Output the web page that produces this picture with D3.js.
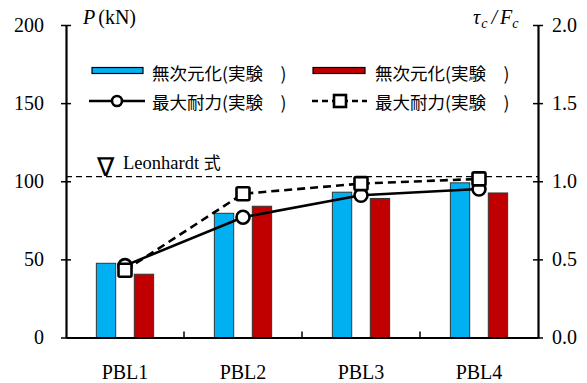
<!DOCTYPE html>
<html>
<head>
<meta charset="utf-8">
<script src="https://cdn.jsdelivr.net/npm/d3@7"></script>
<style>
  html, body { margin: 0; padding: 0; background: #fff; }
  svg { display: block; }
  .serif { font-family: "Liberation Serif", "Times New Roman", serif; }
  .cjk { font-family: "Noto Sans CJK JP", "Noto Sans CJK SC", sans-serif; }
</style>
</head>
<body>
<svg id="chart" width="587" height="383"></svg>
<script>
// Specimens and measured results
const categories = ["PBL1", "PBL2", "PBL3", "PBL4"];
const barBlue = [47.5, 79.5, 93, 99];          // P (kN)
const barRed = [40.5, 84, 89, 92.5];           // P (kN)
const lineSolid = [0.46, 0.77, 0.91, 0.95];    // τc/Fc
const lineDashed = [0.43, 0.92, 0.985, 1.015]; // τc/Fc
const leonhardt = 1.03;                        // τc/Fc
const leftTicks = [0, 50, 100, 150, 200];
const rightTicks = [0, 0.5, 1.0, 1.5, 2.0];
const legendLabels = ["無次元化(実験　)", "無次元化(実験　)", "最大耐力(実験　)", "最大耐力(実験　)"];

const colors = { blue: "#00b0f0", red: "#c00000", edge: "#333" };

const svg = d3.select("#chart");
const plotL = 66, plotR = 538, plotT = 25, plotB = 337.5;

const x0 = d3.scaleBand().domain(categories).range([plotL, plotR]);
const x1 = d3.scaleBand().domain(["blue", "red"]).range([0, x0.bandwidth()])
  .paddingInner(0.49).paddingOuter(0.8);
const yL = d3.scaleLinear().domain([0, 200]).range([plotB, plotT]);
const yR = d3.scaleLinear().domain([0, 2.0]).range([plotB, plotT]);

// Reference line (Leonhardt)
const yLeon = yR(leonhardt);
svg.append("line")
  .attr("x1", plotL).attr("x2", plotR)
  .attr("y1", yLeon).attr("y2", yLeon)
  .attr("stroke", "#000").attr("stroke-width", 1.3)
  .attr("stroke-dasharray", "6,4");
svg.append("text").attr("class", "serif")
  .attr("x", 97).attr("y", yLeon - 1)
  .attr("font-size", 26).text("∇");
svg.append("text")
  .attr("x", 123).attr("y", yLeon - 8)
  .attr("font-size", 18.5)
  .attr("class", "serif")
  .html('Leonhardt <tspan class="cjk" font-size="17">式</tspan>');

// Bars
const groups = svg.append("g").selectAll("g")
  .data(categories).join("g")
  .attr("transform", d => `translate(${x0(d)},0)`);
groups.append("rect")
  .attr("x", x1("blue")).attr("width", x1.bandwidth())
  .attr("y", (d, i) => yL(barBlue[i]))
  .attr("height", (d, i) => yL(0) - yL(barBlue[i]))
  .attr("fill", colors.blue).attr("stroke", colors.edge).attr("stroke-width", 1);
groups.append("rect")
  .attr("x", x1("red")).attr("width", x1.bandwidth())
  .attr("y", (d, i) => yL(barRed[i]))
  .attr("height", (d, i) => yL(0) - yL(barRed[i]))
  .attr("fill", colors.red).attr("stroke", colors.edge).attr("stroke-width", 1);

const cx = d => x0(d) + x0.bandwidth() / 2;

// Lines
const solidPts = categories.map((c, i) => [cx(c), yR(lineSolid[i])]);
const dashedPts = categories.map((c, i) => [cx(c), yR(lineDashed[i])]);
const lineGen = d3.line();
svg.append("path").attr("d", lineGen(dashedPts))
  .attr("fill", "none").attr("stroke", "#000").attr("stroke-width", 2.6)
  .attr("stroke-dasharray", "8,5");
svg.append("path").attr("d", lineGen(solidPts))
  .attr("fill", "none").attr("stroke", "#000").attr("stroke-width", 2.6);

svg.append("g").selectAll("circle").data(solidPts).join("circle")
  .attr("cx", d => d[0]).attr("cy", d => d[1]).attr("r", 6.5)
  .attr("fill", "#fff").attr("stroke", "#000").attr("stroke-width", 2.6);
const sq = 13;
svg.append("g").selectAll("rect").data(dashedPts).join("rect")
  .attr("x", d => d[0] - sq / 2).attr("y", d => d[1] - sq / 2)
  .attr("width", sq).attr("height", sq).attr("rx", 1.5)
  .attr("fill", "#fff").attr("stroke", "#000").attr("stroke-width", 2.6);

// Axes
const axL = d3.axisLeft(yL).tickValues(leftTicks).tickSize(0).tickPadding(22);
const axR = d3.axisRight(yR).tickValues(rightTicks).tickSize(0).tickPadding(14)
  .tickFormat(d3.format(".1f"));
const gL = svg.append("g").attr("transform", `translate(${plotL},0)`).call(axL);
const gR = svg.append("g").attr("transform", `translate(${plotR},0)`).call(axR);
[gL, gR].forEach(g => {
  g.select(".domain").attr("stroke", "#000").attr("stroke-width", 2.2);
  g.selectAll(".tick text").attr("class", "serif").attr("font-size", 20).attr("fill", "#000");
  g.selectAll(".tick").append("line")
    .attr("x1", -5).attr("x2", 5).attr("stroke", "#000").attr("stroke-width", 1.5);
});

const axB = d3.axisBottom(x0).tickSize(0).tickPadding(27);
const gB = svg.append("g").attr("transform", `translate(0,${plotB})`).call(axB);
gB.select(".domain").attr("stroke", "#000").attr("stroke-width", 2.2);
gB.selectAll(".tick text").attr("class", "serif").attr("font-size", 20).attr("fill", "#000");
// boundary ticks between specimens
gB.append("g").selectAll("line").data(categories.slice(1)).join("line")
  .attr("x1", d => x0(d)).attr("x2", d => x0(d))
  .attr("y1", 0).attr("y2", -6).attr("stroke", "#000").attr("stroke-width", 1.5);

// Axis titles
svg.append("text").attr("class", "serif").attr("x", 83).attr("y", 24)
  .attr("font-size", 20)
  .html('<tspan font-style="italic">P</tspan><tspan dx="3">(kN)</tspan>');
svg.append("text").attr("class", "serif").attr("x", 473).attr("y", 24)
  .attr("font-size", 20)
  .html('<tspan font-style="italic">τ</tspan><tspan font-style="italic" font-size="14" dy="4" dx="1">c</tspan>' +
        '<tspan dy="-4" dx="4" font-style="italic">/</tspan><tspan dx="3" font-style="italic">F</tspan>' +
        '<tspan font-style="italic" font-size="14" dy="4">c</tspan>');

// Legend
const lg = svg.append("g");
function legendText(x, y, t) {
  lg.append("text").attr("class", "cjk").attr("x", x).attr("y", y)
    .attr("font-size", 17.5).attr("dominant-baseline", "central").text(t);
}
lg.append("rect").attr("x", 92).attr("y", 67.5).attr("width", 51).attr("height", 6)
  .attr("fill", colors.blue).attr("stroke", "#000").attr("stroke-width", 1.2);
legendText(152, 72, legendLabels[0]);
lg.append("rect").attr("x", 313).attr("y", 67.5).attr("width", 52).attr("height", 6)
  .attr("fill", colors.red).attr("stroke", "#000").attr("stroke-width", 1.2);
legendText(375, 72, legendLabels[1]);

lg.append("line").attr("x1", 89).attr("x2", 145).attr("y1", 101).attr("y2", 101)
  .attr("stroke", "#000").attr("stroke-width", 2.6);
lg.append("circle").attr("cx", 117).attr("cy", 101).attr("r", 5)
  .attr("fill", "#fff").attr("stroke", "#000").attr("stroke-width", 2.6);
legendText(152, 101, legendLabels[2]);

lg.append("line").attr("x1", 312).attr("x2", 367).attr("y1", 101).attr("y2", 101)
  .attr("stroke", "#000").attr("stroke-width", 2.6).attr("stroke-dasharray", "6,4");
lg.append("rect").attr("x", 334).attr("y", 95).attr("width", 12).attr("height", 12)
  .attr("fill", "#fff").attr("stroke", "#000").attr("stroke-width", 2.6);
legendText(375, 101, legendLabels[3]);
</script>
</body>
</html>
